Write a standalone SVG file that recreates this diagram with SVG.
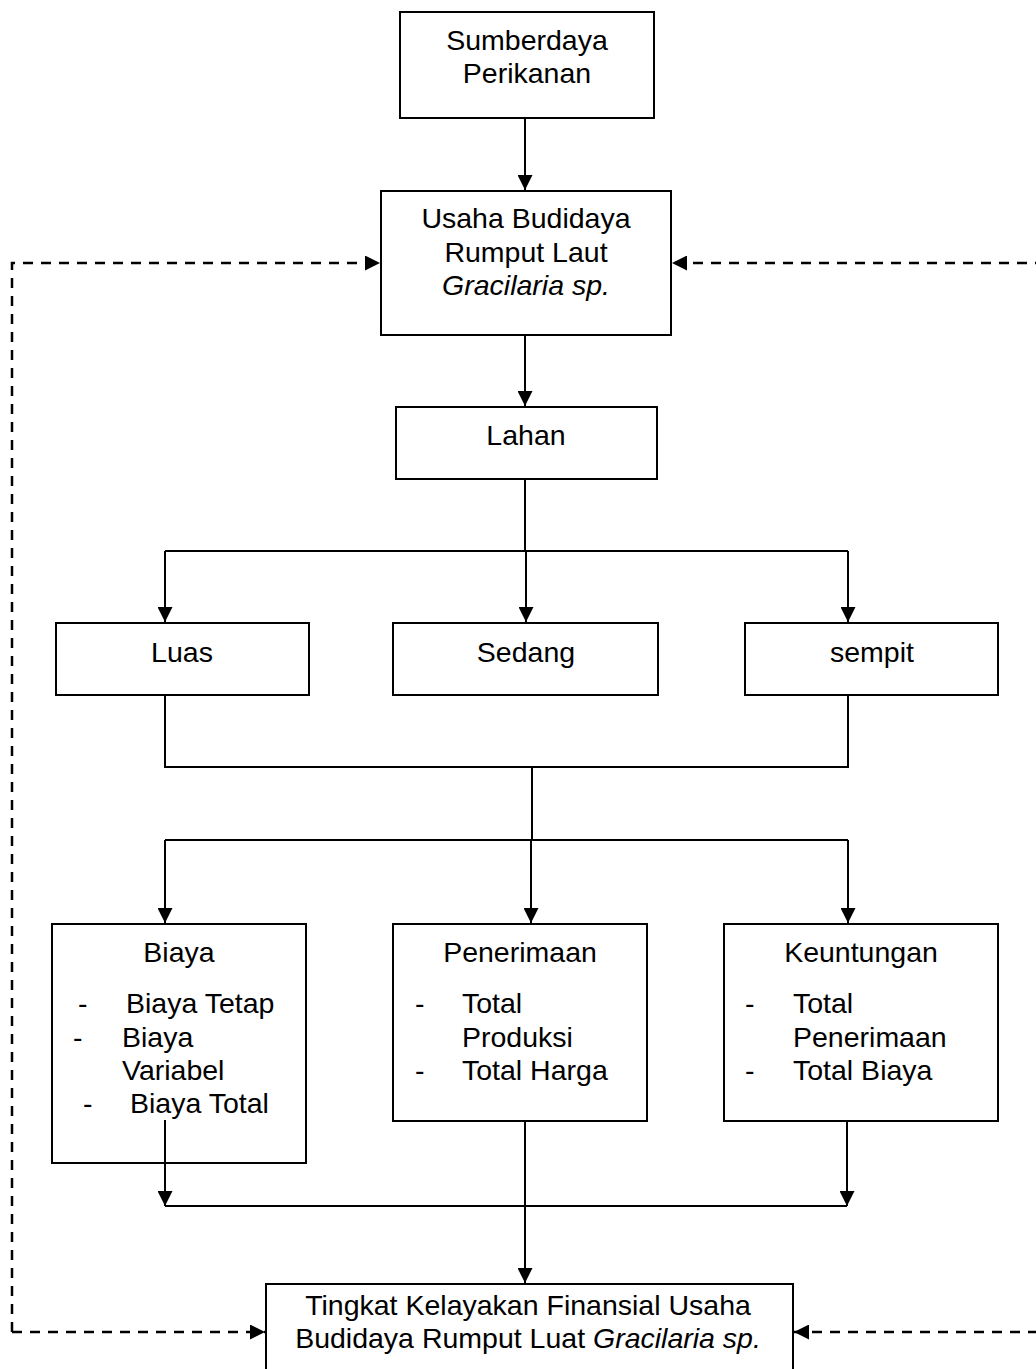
<svg xmlns="http://www.w3.org/2000/svg" width="1036" height="1369" viewBox="0 0 1036 1369">
<defs>
<marker id="ah" viewBox="0 0 10 10" refX="10" refY="5" markerWidth="7.5" markerHeight="7.5" orient="auto" markerUnits="strokeWidth">
<path d="M0,0 L10,5 L0,10 z" fill="#000"/>
</marker>
<marker id="ahd" viewBox="0 0 10 10" refX="10" refY="5" markerWidth="6" markerHeight="6" orient="auto" markerUnits="strokeWidth">
<path d="M0,0 L10,5 L0,10 z" fill="#000"/>
</marker>
<style>
.box{fill:#fff;stroke:#000;stroke-width:2}
.t{font-family:"Liberation Sans",Arial,sans-serif;font-size:28.5px;fill:#000}
.c{text-anchor:middle}
.ln{fill:none;stroke:#000;stroke-width:2}
.ar{fill:none;stroke:#000;stroke-width:2;marker-end:url(#ah)}
.da{fill:none;stroke:#000;stroke-width:2.5;stroke-dasharray:10,8;marker-end:url(#ahd)}
</style>
</defs>
<rect width="1036" height="1369" fill="#fff"/>
<g id="sumberdaya">
<rect class="box" x="400" y="12" width="254" height="106"/>
<text class="t c" x="527" y="50">Sumberdaya</text>
<text class="t c" x="527" y="83">Perikanan</text>
</g>
<g id="usaha">
<rect class="box" x="381" y="191" width="290" height="144"/>
<text class="t c" x="526" y="228">Usaha Budidaya</text>
<text class="t c" x="526" y="262">Rumput Laut</text>
<text class="t c" x="526" y="295" font-style="italic">Gracilaria sp.</text>
</g>
<g id="lahan">
<rect class="box" x="396" y="407" width="261" height="72"/>
<text class="t c" x="526" y="445">Lahan</text>
</g>
<g id="luas">
<rect class="box" x="56" y="623" width="253" height="72"/>
<text class="t c" x="182" y="662">Luas</text>
</g>
<g id="sedang">
<rect class="box" x="393" y="623" width="265" height="72"/>
<text class="t c" x="526" y="662">Sedang</text>
</g>
<g id="sempit">
<rect class="box" x="745" y="623" width="253" height="72"/>
<text class="t c" x="872" y="662">sempit</text>
</g>
<g id="biaya">
<rect class="box" x="52" y="924" width="254" height="239"/>
<text class="t c" x="179" y="962">Biaya</text>
<text class="t" x="78" y="1013">-</text>
<text class="t" x="126" y="1013">Biaya Tetap</text>
<text class="t" x="73" y="1047">-</text>
<text class="t" x="122" y="1047">Biaya</text>
<text class="t" x="122" y="1080">Variabel</text>
<text class="t" x="83" y="1113">-</text>
<text class="t" x="130" y="1113">Biaya Total</text>
</g>
<g id="penerimaan">
<rect class="box" x="393" y="924" width="254" height="197"/>
<text class="t c" x="520" y="962">Penerimaan</text>
<text class="t" x="415" y="1013">-</text>
<text class="t" x="462" y="1013">Total</text>
<text class="t" x="462" y="1047">Produksi</text>
<text class="t" x="415" y="1080">-</text>
<text class="t" x="462" y="1080">Total Harga</text>
</g>
<g id="keuntungan">
<rect class="box" x="724" y="924" width="274" height="197"/>
<text class="t c" x="861" y="962">Keuntungan</text>
<text class="t" x="745" y="1013">-</text>
<text class="t" x="793" y="1013">Total</text>
<text class="t" x="793" y="1047">Penerimaan</text>
<text class="t" x="745" y="1080">-</text>
<text class="t" x="793" y="1080">Total Biaya</text>
</g>
<g id="kelayakan">
<rect class="box" x="266" y="1284" width="527" height="110"/>
<text class="t c" x="528" y="1315">Tingkat Kelayakan Finansial Usaha</text>
<text class="t c" x="528" y="1348">Budidaya Rumput Luat <tspan font-style="italic">Gracilaria sp.</tspan></text>
</g>
<g id="connectors">
<path class="ar" d="M525,118 V190"/>
<path class="ar" d="M525,335 V406"/>
<path class="ln" d="M525,479 V551 M165,551 H848"/>
<path class="ar" d="M165,551 V622"/>
<path class="ar" d="M526,551 V622"/>
<path class="ar" d="M848,551 V622"/>
<path class="ln" d="M165,695 V767 H848 V695 M532,767 V840 M165,840 H848"/>
<path class="ar" d="M165,840 V923"/>
<path class="ar" d="M531,840 V923"/>
<path class="ar" d="M848,840 V923"/>
<path class="ar" d="M165,1120 V1206"/>
<path class="ar" d="M847,1121 V1206"/>
<path class="ln" d="M165,1206 H847"/>
<path class="ar" d="M525,1121 V1283"/>
<path class="da" d="M12,1332 V263 H380"/>
<path class="da" d="M12,1332 H265"/>
<path class="da" d="M1038,1332 V263 H672"/>
<path class="da" d="M1038,1332 H794"/>
</g>
</svg>
